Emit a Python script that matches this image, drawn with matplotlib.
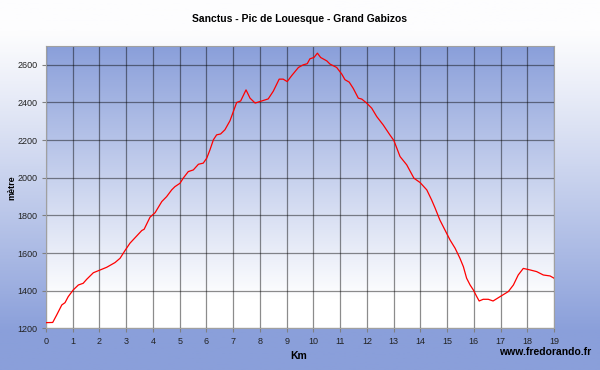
import matplotlib
matplotlib.use("Agg")
import matplotlib.pyplot as plt
from matplotlib.colors import LinearSegmentedColormap
import numpy as np

plt.rcParams['font.family'] = ['Liberation Sans', 'DejaVu Sans']

# profile: distance (km) / altitude (m)
km = [0.00, 0.25, 0.40, 0.59, 0.71, 0.83, 1.02, 1.21, 1.39, 1.52, 1.77, 1.96,
      2.27, 2.58, 2.77, 2.95, 3.14, 3.39, 3.58, 3.67, 3.89, 4.08, 4.33, 4.51,
      4.70, 4.82, 5.01, 5.13, 5.32, 5.51, 5.70, 5.88, 6.01, 6.13, 6.26, 6.38,
      6.53, 6.69, 6.88, 7.13, 7.28, 7.48, 7.63, 7.82, 8.00, 8.31, 8.50, 8.72,
      8.87, 9.02, 9.19, 9.44, 9.62, 9.77, 9.87, 10.02, 10.15, 10.27, 10.50,
      10.62, 10.87, 11.06, 11.18, 11.34, 11.49, 11.68, 11.81, 11.99, 12.18,
      12.37, 12.61, 12.86, 13.01, 13.24, 13.49, 13.76, 13.99, 14.24, 14.42,
      14.55, 14.73, 14.92, 15.11, 15.30, 15.48, 15.61, 15.73, 15.86, 15.98,
      16.11, 16.20, 16.35, 16.54, 16.72, 16.98, 17.29, 17.48, 17.66, 17.85,
      18.10, 18.35, 18.60, 18.85, 19.00]
alt = [1231, 1232, 1272, 1325, 1337, 1369, 1405, 1431, 1440, 1461, 1496, 1507,
       1525, 1550, 1573, 1613, 1653, 1691, 1720, 1727, 1791, 1815, 1874, 1900,
       1936, 1953, 1971, 1998, 2033, 2042, 2072, 2078, 2104, 2148, 2202, 2228,
       2233, 2255, 2303, 2400, 2408, 2467, 2423, 2397, 2405, 2419, 2460, 2524,
       2524, 2511, 2543, 2586, 2600, 2606, 2632, 2639, 2662, 2639, 2621,
       2604, 2586, 2551, 2521, 2508, 2475, 2423, 2418, 2397, 2370,
       2325, 2281, 2228, 2198, 2113, 2069, 1998, 1975, 1936, 1883,
       1840, 1776, 1723, 1670, 1626, 1573, 1528, 1467, 1431, 1405,
       1369, 1346, 1355, 1355, 1346, 1369, 1396, 1431, 1484, 1519,
       1511, 1502, 1484, 1479, 1467]

x_ticks = list(range(0, 20))
y_ticks = [1200, 1400, 1600, 1800, 2000, 2200, 2400, 2600]

blue = '#8a9fda'
fig = plt.figure(figsize=(6, 3.7), dpi=100)

# figure background: white at top fading to blue at bottom
bg = fig.add_axes([0, 0, 1, 1], zorder=-10)
ty = np.clip((np.linspace(0, 1, 300) - 0.08) / 0.82, 0, 1) ** 1.1
bg.imshow(ty[:, None], aspect='auto', extent=[0, 1, 0, 1],
          cmap=LinearSegmentedColormap.from_list('o', ['#fdfdfe', blue]))
bg.axis('off')

ax = fig.add_axes([0.0767, 0.1122, 0.8467, 0.7635])
# plot area: blue at top fading to white at bottom
ty2 = np.clip(np.linspace(0, 1, 300) / 0.9, 0, 1)
ax.imshow(ty2[:, None], aspect='auto', extent=[0, 19, 1200, 2700],
          cmap=LinearSegmentedColormap.from_list('p', [blue, '#ffffff']),
          zorder=0)

ax.plot(km, alt, color='red', lw=0.9, zorder=3)

ax.set_xlim(0, 19)
ax.set_ylim(1200, 2700)
ax.set_xticks(x_ticks)
ax.set_yticks(y_ticks)
ax.tick_params(labelsize=6.5, length=3, color='#808080', labelcolor='#222222', pad=3)
ax.grid(True, color='black', alpha=0.45, lw=0.9, zorder=1)
for s in ax.spines.values():
    s.set_color('#a0a0a0')

fig.text(0.5, 1 - 19 / 370, 'Sanctus - Pic de Louesque - Grand Gabizos',
         ha='center', va='center', fontsize=7.5, fontweight='bold')
fig.text(12 / 600, 1 - 188 / 370, 'mètre', rotation=90, ha='center',
         va='center', fontsize=6.5, fontweight='bold')
fig.text(299 / 600, 1 - 356 / 370, 'Km', ha='center', va='center',
         fontsize=7.5, fontweight='bold')
fig.text(591 / 600, 1 - 352 / 370, 'www.fredorando.fr', ha='right',
         va='center', fontsize=7.5, fontweight='bold')

fig.savefig('out.png', dpi=100)
